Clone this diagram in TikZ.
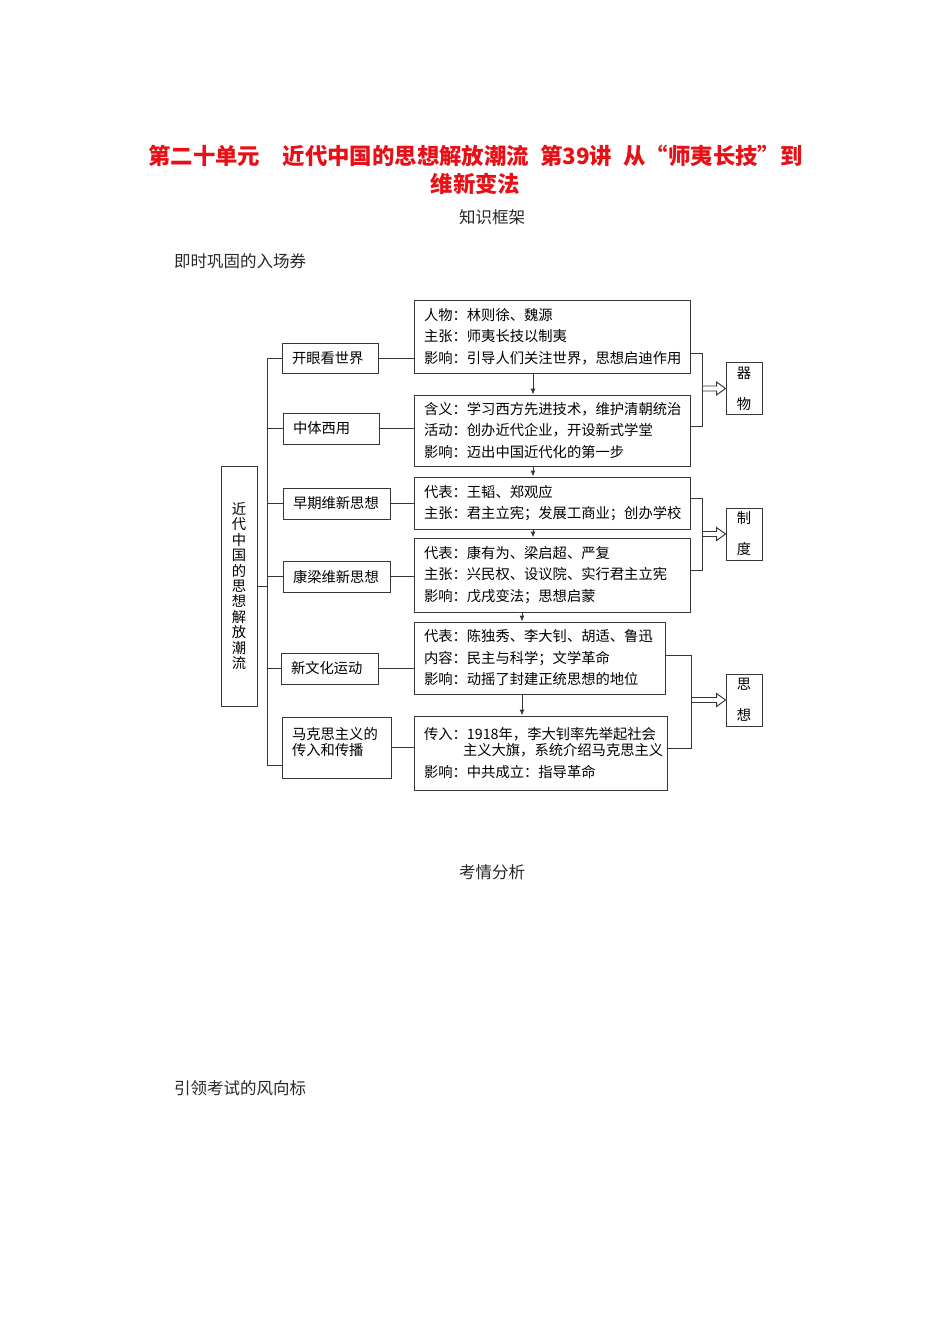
\documentclass[tikz,border=0pt]{standalone}
\usepackage{fontspec}
\setmainfont{Noto Sans CJK SC}
\usetikzlibrary{positioning,arrows.meta,calc}
\definecolor{titlered}{RGB}{232,16,22}
\definecolor{inkgray}{RGB}{40,40,40}
\definecolor{framegray}{RGB}{55,55,55}

\tikzset{
  wire/.style={draw=framegray,line width=0.95pt},
  lbox/.style={wire,rectangle,inner xsep=10pt,inner ysep=0pt,align=left,
               font=\fontsize{14.3}{16}\selectfont},
  rbox/.style={wire,rectangle,inner xsep=10pt,inner ysep=0pt,align=left,
               font=\fontsize{14.3}{21.5}\selectfont},
  catbox/.style={wire,rectangle,minimum width=36pt,minimum height=52pt,
                 inner sep=0pt,align=center,font=\fontsize{14.3}{31}\selectfont},
  downarrow/.style={wire,-{Latex[length=6pt,width=5pt]}},
  plaintext/.style={inner sep=0pt,text=inkgray,font=\fontsize{16.5}{20}\selectfont},
}

\newcommand{\hollowarrow}[2]{%
  \draw[wire] ($(#1 |- #2.west)+(0,-2.5)$) -- ([shift={(-9,-2.5)}]#2.west)
    -- ++(0,-4) -- (#2.west) -- ([shift={(-9,6.5)}]#2.west) -- ++(0,-4)
    -- ($(#1 |- #2.west)+(0,2.5)$);}

\begin{document}
\begin{tikzpicture}[x=1pt,y=-1pt]
  \useasboundingbox (0,0) rectangle (950,1344);

  \node[text=titlered,align=center,inner sep=0pt,
        font=\bfseries\fontsize{22.4}{28}\selectfont] (title) at (475.5,170)
    {第二十单元\hspace{1em}近代中国的思想解放潮流\hspace{0.5em}第39讲\hspace{0.5em}从“师夷长技”到\\维新变法};
  \node[plaintext] (frame) at (492,217) {知识框架};
  \node[plaintext,anchor=west] (quiz) at (174,261) {即时巩固的入场券};
  \node[plaintext] (analysis) at (492,872) {考情分析};
  \node[plaintext,anchor=west] (trend) at (174,1088) {引领考试的风向标};

  \node[wire,rectangle,minimum width=36pt,minimum height=240pt,inner sep=0pt,
        align=center,font=\fontsize{14.3}{15.4}\selectfont] (root) at (239,586)
    {近\\代\\中\\国\\的\\思\\想\\解\\放\\潮\\流};

  \node[lbox,text width=76pt,minimum height=30pt] (l1) at (330,358) {开眼看世界};
  \node[lbox,text width=76pt,minimum height=31pt] (l2) at (331,428.5) {中体西用};
  \node[lbox,text width=87pt,minimum height=31pt] (l3) at (336.5,503.5) {早期维新思想};
  \node[lbox,text width=87pt,minimum height=31pt] (l4) at (336.5,576.5) {康梁维新思想};
  \node[lbox,text width=77pt,minimum height=31pt] (l5) at (329.5,668.5) {新文化运动};
  \node[lbox,text width=89pt,minimum height=61pt] (l6) at (336.5,747.5)
    {马克思主义的\\传入和传播\\[-4pt]\mbox{}};

  \node[rbox,text width=256pt,minimum height=73pt] (r1) at (552,336.5)
    {人物：林则徐、魏源\\主张：师夷长技以制夷\\影响：引导人们关注世界，思想启迪作用};
  \node[rbox,text width=256pt,minimum height=71pt] (r2) at (552,430.5)
    {含义：学习西方先进技术，维护清朝统治\\活动：创办近代企业，开设新式学堂\\影响：迈出中国近代化的第一步};
  \node[rbox,text width=256pt,minimum height=52pt] (r3) at (552,503)
    {代表：王韬、郑观应\\主张：君主立宪；发展工商业；创办学校};
  \node[rbox,text width=256pt,minimum height=74pt] (r4) at (552,575)
    {代表：康有为、梁启超、严复\\主张：兴民权、设议院、实行君主立宪\\影响：戊戌变法；思想启蒙};
  \node[rbox,text width=231pt,minimum height=72pt] (r5) at (539.5,658)
    {代表：陈独秀、李大钊、胡适、鲁迅\\内容：民主与科学；文学革命\\影响：动摇了封建正统思想的地位};
  \node[rbox,text width=233pt,minimum height=74pt] (r6) at (540.5,753)
    {传入：1918年，李大钊率先举起社会\\[-5.5pt]\hspace*{39pt}主义大旗，系统介绍马克思主义\\影响：中共成立：指导革命};

  \node[catbox] (qiwu) at (744,388.5) {器\\物};
  \node[catbox] (zhidu) at (744,534) {制\\度};
  \node[catbox] (sixiang) at (744,700) {思\\想};

  \coordinate (spinetop) at (267,358);
  \coordinate (spinebot) at (267,765);
  \draw[wire] (spinetop) -- (spinebot);
  \foreach \n in {l1,l2,l3,l4,l5}
    \draw[wire] (spinetop |- \n.west) -- (\n.west);
  \draw[wire] (spinebot) -- (spinebot -| l6.west);
  \draw[wire] (root.east) -- (root.east -| spinetop);

  \foreach \a/\b in {l1/r1,l2/r2,l3/r3,l4/r4,l5/r5,l6/r6}
    \draw[wire] (\a.east) -- (\a.east -| \b.west);

  \foreach \a/\b/\s in {r1/r2/-19,r2/r3/-19,r3/r4/-19,r4/r5/-30,r5/r6/-17.5}
    \draw[downarrow] ([xshift=\s pt]\a.south) -- ([xshift=\s pt]\a.south |- \b.north);

  \coordinate (k1a) at (702,353);
  \coordinate (k1b) at (702,426);
  \coordinate (k2a) at (702,498);
  \coordinate (k2b) at (702,570);
  \coordinate (k3a) at (691,655);
  \coordinate (k3b) at (691,748);
  \draw[wire] (k1a -| r1.east) -- (k1a) -- (k1b) -- (k1b -| r2.east);
  \draw[wire] (k2a -| r3.east) -- (k2a) -- (k2b) -- (k2b -| r4.east);
  \draw[wire] (k3a -| r5.east) -- (k3a) -- (k3b) -- (k3b -| r6.east);

  \hollowarrow{k1a}{qiwu}
  \hollowarrow{k2a}{zhidu}
  \hollowarrow{k3a}{sixiang}
\end{tikzpicture}
\end{document}
